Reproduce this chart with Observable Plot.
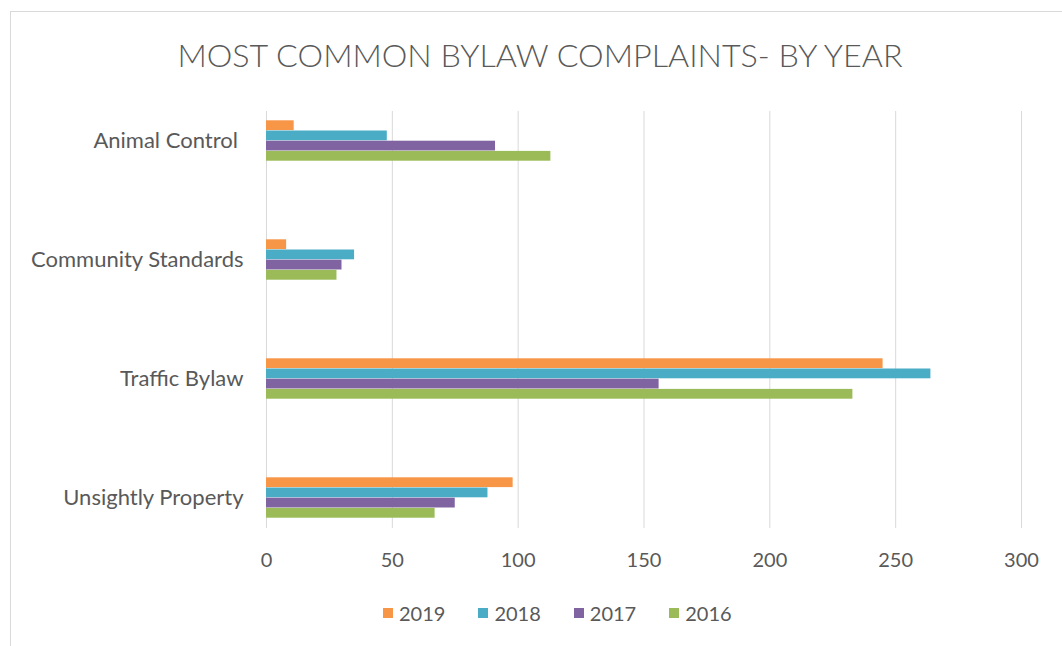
<!DOCTYPE html>
<html>
<head>
<meta charset="utf-8">
<script src="https://cdn.jsdelivr.net/npm/d3@7"></script>
<script src="https://cdn.jsdelivr.net/npm/@observablehq/plot@0.6"></script>
<style>
  html, body { margin: 0; padding: 0; background: #fff; width: 1062px; height: 646px; overflow: hidden; }
  #box { position: absolute; left: 10px; top: 11px; width: 1100px; height: 700px; border: 1px solid #d9d9d9; box-sizing: border-box; }
  #title { position: absolute; left: 0; top: 35px; width: 1080px; text-align: center; font-family: Lato, sans-serif; font-weight: 300; font-size: 32.3px; color: #595959; white-space: nowrap; }
  #chart { position: absolute; left: 0; top: 80px; }
  #chart svg text { white-space: pre; }
  #legend { position: absolute; left: 383px; top: 596px; }
  .lg-swatch { margin-right: 33px !important; }
  .lg-swatch svg { margin-right: 6px !important; }
</style>
</head>
<body>
<div id="box"></div>
<div id="title">MOST COMMON BYLAW COMPLAINTS- BY YEAR</div>
<div id="chart"></div>
<div id="legend"></div>
<script>
const categories = ["Animal Control ", "Community Standards", "Traffic Bylaw", "Unsightly Property"];
const years = ["2019", "2018", "2017", "2016"];
const values2019 = [11, 8, 245, 98];
const values2018 = [48, 35, 264, 88];
const values2017 = [91, 30, 156, 75];
const values2016 = [113, 28, 233, 67];
const xTicks = [0, 50, 100, 150, 200, 250, 300];
const colors = ["#F79646", "#4BACC6", "#8064A2", "#9BBB59"];

const series = [values2019, values2018, values2017, values2016];
const data = [];
years.forEach((yr, i) => categories.forEach((c, j) => data.push({category: c, year: yr, value: series[i][j]})));

const band = 119.4;       // px per category band
const barH = 10.2;        // px per bar
const groupOffset = (band - barH * years.length) / 2;

const plot = Plot.plot({
  width: 1062,
  height: 500,
  marginLeft: 266,
  marginRight: 41,
  marginTop: 31,
  marginBottom: 52,
  style: {fontFamily: "Lato, sans-serif", fontSize: "20px", color: "#595959", background: "transparent"},
  x: {domain: [0, 300], ticks: xTicks},
  y: {type: "band", domain: categories, range: [0.6, 0.6 + band * categories.length], padding: 0},
  color: {domain: years, range: colors},
  marks: [
    Plot.gridX(xTicks, {stroke: "#d9d9d9", strokeOpacity: 1, strokeWidth: 1}),
    ...years.map((yr, i) => Plot.barX(data.filter(d => d.year === yr), {
      x: "value", y: "category", fill: "year",
      insetTop: groupOffset + i * barH,
      insetBottom: band - groupOffset - (i + 1) * barH
    })),
    Plot.axisX({ticks: xTicks, tickSize: 0, tickPadding: 24, label: null, fontSize: 20}),
    Plot.axisY({tickSize: 0, tickPadding: 23, label: null, fontSize: 22})
  ]
});
document.getElementById("chart").appendChild(plot);

const legend = plot.legend("color", {
  legend: "swatches",
  swatchSize: 10,
  className: "lg",
  style: {fontFamily: "Lato, sans-serif", fontSize: "20px", color: "#595959"}
});
document.getElementById("legend").appendChild(legend);
</script>
</body>
</html>
